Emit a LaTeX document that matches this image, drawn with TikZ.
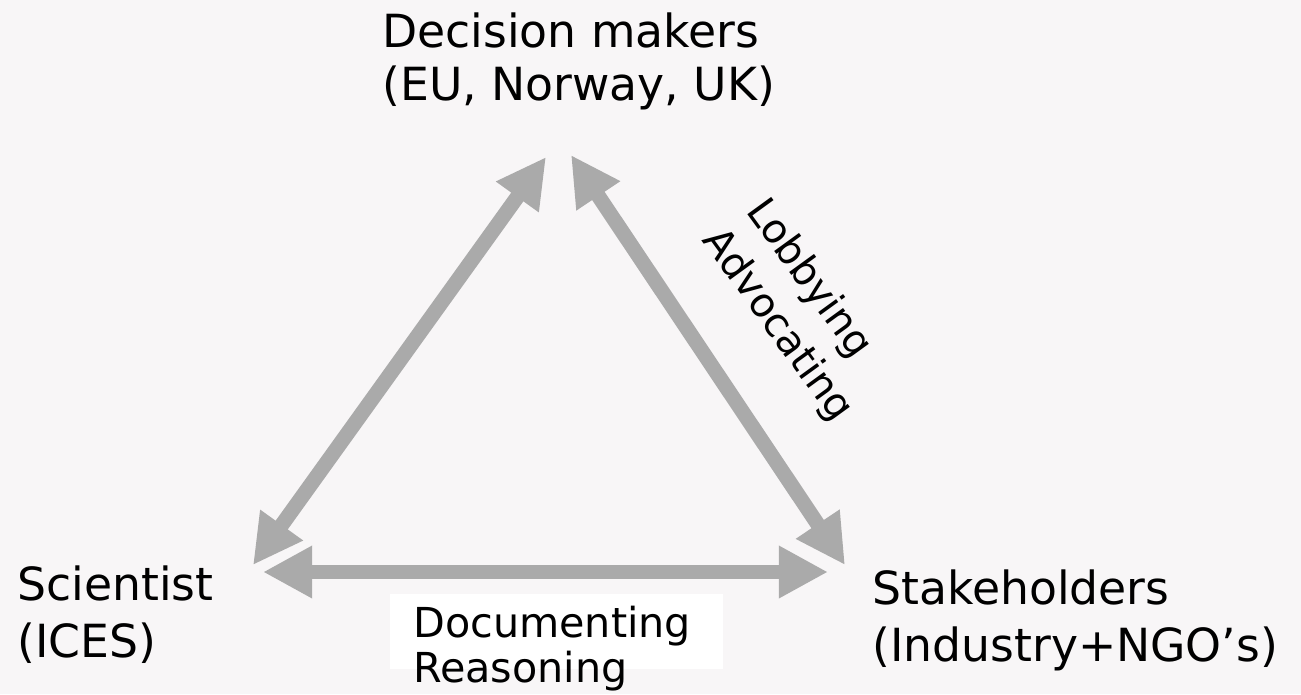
\documentclass[tikz,border=0pt]{standalone}
\usepackage{fontspec}
\setmainfont{DejaVu Sans}
\usepackage{tikz}
\usepackage{xcolor}
\usetikzlibrary{arrows.meta}
\definecolor{bgcol}{RGB}{248,246,247}
\definecolor{arrowgray}{RGB}{170,170,170}
\tikzstyle{txt} = [inner sep=0, align=left, font=\fontsize{26}{32}\selectfont]
\tikzstyle{twoway} = [draw=arrowgray, line width=8.5pt,
  {Triangle[length=28pt,width=28pt]}-{Triangle[length=28pt,width=28pt]}]

\begin{document}
\begin{tikzpicture}[x=0.02cm,y=-0.02cm]
\fill[bgcol] (0,0) rectangle (1301,694);
\useasboundingbox (0,0) rectangle (1301,694);

\node[txt, anchor=base west, font=\fontsize{26}{30}\selectfont] (dec) at (382,100) {Decision makers\\(EU, Norway, UK)};
\node[txt, anchor=base west] (sci) at (17,657) {Scientist\\(ICES)};
\node[txt, anchor=base west] (stake) at (872,661) {Stakeholders\\(Industry+NGO’s)};

\coordinate (sci-t) at (253,565);
\coordinate (dec-l) at (546,157);
\coordinate (dec-r) at (571,155);
\coordinate (stake-t) at (845,565);
\coordinate (sci-r) at (263,572);
\coordinate (stake-l) at (828,572);

\foreach \from/\to in {sci-t/dec-l,dec-r/stake-t,sci-r/stake-l}
{
	\draw[twoway] (\from) -- (\to);
}

\node[fill=white, inner sep=0, minimum width=6.66cm, minimum height=1.5cm, anchor=north west] (docbox) at (390,594) {};
\node[txt, anchor=base west, font=\fontsize{23.5}{25.5}\selectfont] (doc) at (413,682) {Documenting\\Reasoning};

\node[txt, anchor=base west, rotate=-54, font=\fontsize{23}{28}\selectfont] (lob) at (745,211) {Lobbying};
\node[txt, anchor=base west, rotate=-54, font=\fontsize{23}{28}\selectfont] (adv) at (701,240) {Advocating};
\end{tikzpicture}
\end{document}
